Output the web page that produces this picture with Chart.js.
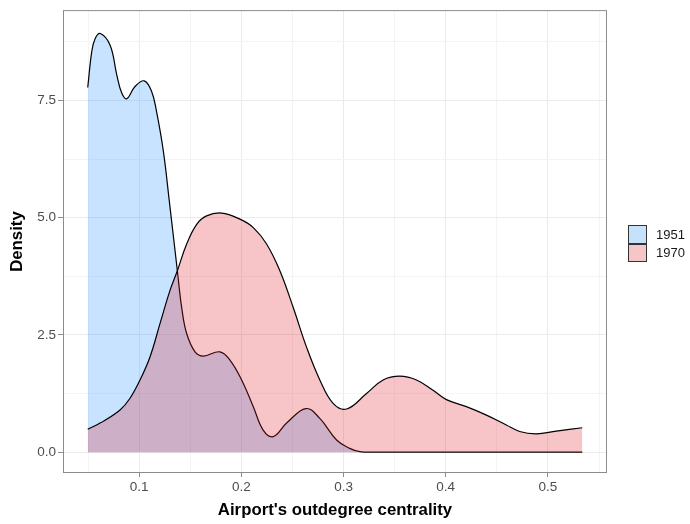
<!DOCTYPE html>
<html>
<head>
<meta charset="utf-8">
<script src="https://cdn.jsdelivr.net/npm/chart.js@4"></script>
<style>
  body { margin: 0; background: #fff; }
  #wrap { position: relative; width: 690px; height: 524px; }
  .legend { position: absolute; left: 628px; top: 225px; font-family: "Liberation Sans", Arial, sans-serif; font-size: 13px; color: #1a1a1a; }
  .legend .row { display: flex; align-items: center; height: 18.5px; }
  .legend .key { width: 17px; height: 16.5px; border: 1px solid #333; margin-right: 9px; }
</style>
</head>
<body>
<div id="wrap">
  <canvas id="chart" width="690" height="524"></canvas>
  <div class="legend">
    <div class="row"><span class="key" style="background:#c6e1fa"></span>1951</div>
    <div class="row"><span class="key" style="background:#f6c5c7"></span>1970</div>
  </div>
</div>
<script>
// density estimates
const x1951 = [0.0497, 0.0536, 0.0569, 0.062, 0.0716, 0.0781, 0.0830, 0.0879, 0.0960, 0.1050, 0.1123, 0.1170, 0.1237, 0.1295, 0.1374, 0.1416, 0.1465, 0.1547, 0.1628, 0.1790, 0.1890, 0.2003, 0.2117, 0.2214, 0.2312, 0.2443, 0.2632, 0.2768, 0.2932, 0.3060, 0.3160, 0.3300, 0.5336];
const y1951 = [7.78, 8.54, 8.82, 8.93, 8.68, 8.05, 7.66, 7.54, 7.80, 7.92, 7.69, 7.27, 6.42, 5.36, 3.87, 3.09, 2.53, 2.14, 2.05, 2.14, 1.96, 1.54, 0.97, 0.47, 0.33, 0.62, 0.93, 0.72, 0.26, 0.08, 0.01, 0, 0];

const x1970 = [0.0497, 0.0618, 0.0813, 0.0911, 0.1009, 0.1106, 0.1204, 0.1302, 0.1374, 0.1465, 0.1563, 0.1660, 0.1807, 0.1986, 0.2117, 0.2247, 0.2377, 0.2507, 0.2638, 0.2768, 0.2898, 0.3030, 0.3225, 0.3387, 0.3550, 0.3714, 0.3876, 0.4007, 0.4202, 0.4398, 0.4593, 0.4723, 0.4887, 0.5082, 0.5336];
const y1970 = [0.49, 0.62, 0.90, 1.15, 1.54, 2.03, 2.74, 3.45, 3.87, 4.44, 4.86, 5.04, 5.10, 4.97, 4.79, 4.44, 3.87, 3.09, 2.24, 1.54, 1.04, 0.92, 1.25, 1.54, 1.62, 1.54, 1.32, 1.12, 0.97, 0.79, 0.58, 0.44, 0.39, 0.45, 0.52];

const xTicks = [0.1, 0.2, 0.3, 0.4, 0.5];
const xMinor = [0.05, 0.15, 0.25, 0.35, 0.45, 0.55];
const yTicks = [0, 2.5, 5, 7.5];
const yMinor = [1.25, 3.75, 6.25, 8.75];

function pts(xs, ys) { return xs.map((x, i) => ({ x: x, y: ys[i] })); }
function isMajor(list, v) { return list.some(t => Math.abs(t - v) < 1e-6); }

const panelBorder = {
  id: 'panelBorder',
  afterDraw(chart) {
    const a = chart.chartArea, c = chart.ctx;
    c.save();
    c.strokeStyle = '#8c8c8c';
    c.lineWidth = 1;
    c.strokeRect(a.left + 0.5, a.top + 0.5, a.right - a.left - 1, a.bottom - a.top - 1);
    c.restore();
  }
};

const fam = '"Liberation Sans", Arial, sans-serif';
const tickFont = { family: fam, size: 13.5 };
const titleFont = { family: fam, size: 16.8, weight: 'bold' };

new Chart(document.getElementById('chart').getContext('2d'), {
  type: 'line',
  data: {
    datasets: [
      {
        label: '1951',
        data: pts(x1951, y1951),
        borderColor: '#000',
        borderWidth: 1.2,
        backgroundColor: 'rgba(30,144,255,0.25)',
        fill: 'origin',
        pointRadius: 0,
        tension: 0.4,
        order: 2
      },
      {
        label: '1970',
        data: pts(x1970, y1970),
        borderColor: '#000',
        borderWidth: 1.2,
        backgroundColor: 'rgba(222,24,32,0.25)',
        fill: 'origin',
        pointRadius: 0,
        tension: 0.4,
        order: 1
      }
    ]
  },
  options: {
    responsive: false,
    animation: false,
    layout: { padding: { top: 8, right: 83, left: 0, bottom: 0 } },
    plugins: { legend: { display: false }, tooltip: { enabled: false } },
    scales: {
      x: {
        type: 'linear',
        min: 0.0255,
        max: 0.5578,
        afterBuildTicks: s => { s.ticks = xTicks.concat(xMinor).sort((a, b) => a - b).map(v => ({ value: v })); },
        afterFit: s => { s.height = 51; },
        ticks: {
          color: '#4d4d4d', font: tickFont, padding: 2, maxRotation: 0, autoSkip: false,
          callback: v => isMajor(xTicks, v) ? String(+v.toFixed(1)) : ''
        },
        grid: {
          color: c => isMajor(xTicks, c.tick.value) ? '#ebebeb' : '#f4f4f4',
          tickColor: c => isMajor(xTicks, c.tick.value) ? '#8c8c8c' : 'rgba(0,0,0,0)',
          tickLength: 4
        },
        border: { display: false },
        title: { display: true, text: "Airport's outdegree centrality", color: '#000', font: titleFont, padding: { top: 3 } }
      },
      y: {
        type: 'linear',
        min: -0.445,
        max: 9.43,
        afterBuildTicks: s => { s.ticks = yTicks.concat(yMinor).sort((a, b) => a - b).map(v => ({ value: v })); },
        afterFit: s => { s.width = 63; },
        ticks: {
          color: '#4d4d4d', font: tickFont, padding: 2, autoSkip: false,
          callback: v => isMajor(yTicks, v) ? v.toFixed(1) : ''
        },
        grid: {
          color: c => isMajor(yTicks, c.tick.value) ? '#ebebeb' : '#f4f4f4',
          tickColor: c => isMajor(yTicks, c.tick.value) ? '#8c8c8c' : 'rgba(0,0,0,0)',
          tickLength: 5
        },
        border: { display: false },
        title: { display: true, text: 'Density', color: '#000', font: titleFont, padding: { top: 7 } }
      }
    }
  },
  plugins: [panelBorder]
});
</script>
</body>
</html>
